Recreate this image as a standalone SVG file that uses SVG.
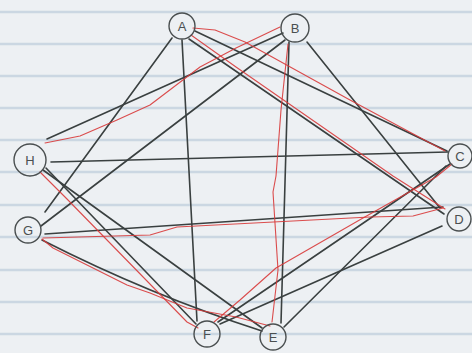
<svg xmlns="http://www.w3.org/2000/svg" width="472" height="353" viewBox="0 0 472 353">
<style>
.paper{fill:#edf0f3}
.rule{stroke:#c6d3e0;stroke-width:2.4;opacity:0.85}
.blk{fill:none;stroke:#3a4040;stroke-width:1.6;stroke-linecap:round;stroke-linejoin:round}
.red{fill:none;stroke:#d83a3a;stroke-width:1.1;stroke-linecap:round;stroke-linejoin:round;opacity:0.9}
.node circle{fill:none;stroke:#4a4f50;stroke-width:1.4}
.node text{font-family:"Liberation Sans",Arial,sans-serif;font-size:13px;fill:#4a4f50;text-anchor:middle;dominant-baseline:central}
</style>
<g id="paper">
<rect class="paper" x="0" y="0" width="472" height="353"/>
<g id="rules">
<line class="rule" x1="0" y1="12" x2="472" y2="12"/>
<line class="rule" x1="0" y1="44" x2="472" y2="44"/>
<line class="rule" x1="0" y1="76" x2="472" y2="76"/>
<line class="rule" x1="0" y1="108" x2="472" y2="108"/>
<line class="rule" x1="0" y1="140" x2="472" y2="140"/>
<line class="rule" x1="0" y1="172" x2="472" y2="172"/>
<line class="rule" x1="0" y1="205" x2="472" y2="205"/>
<line class="rule" x1="0" y1="237" x2="472" y2="237"/>
<line class="rule" x1="0" y1="270" x2="472" y2="270"/>
<line class="rule" x1="0" y1="302" x2="472" y2="302"/>
<line class="rule" x1="0" y1="334" x2="472" y2="334"/>
</g>
</g>
<g id="connectors">
<g id="black-edges">
<path class="blk" d="M172,38 L45,212"/>
<path class="blk" d="M182,40 L197,321"/>
<path class="blk" d="M189,39 L444,214"/>
<path class="blk" d="M195,31 L447,151"/>
<path class="blk" d="M283,33 L47,139"/>
<path class="blk" d="M285,40 L41,226"/>
<path class="blk" d="M289,42 L281,323"/>
<path class="blk" d="M307,42 L440,208"/>
<path class="blk" d="M51,162 L448,152"/>
<path class="blk" d="M43,170 L262,328"/>
<path class="blk" d="M46,168 L196,324"/>
<path class="blk" d="M45,234 L443,207"/>
<path class="blk" d="M42,240 Q150,295 262,331"/>
<path class="blk" d="M218,322 L450,164"/>
<path class="blk" d="M220,324 L442,226"/>
<path class="blk" d="M284,327 L446,166"/>
</g>
<g id="red-edges">
<path class="red" d="M45,143 L80,136 L117,120 L150,105 L200,67 L236,48 L280,27"/>
<path class="red" d="M288,44 L281,110 L276,176 L273,192 L278,270 L272,322"/>
<path class="red" d="M270,326 L236,317 L187,308 L150,293 L127,285 L53,248 L42,239"/>
<path class="red" d="M43,238 L150,235 L177,227 L370,217 L413,216 L443,208"/>
<path class="red" d="M445,209 L393,176 L236,67 L191,35"/>
<path class="red" d="M193,28 L215,30 L245,42 L350,100 L445,151"/>
<path class="red" d="M452,164 L436,177 L363,218 L276,268 L240,300 L214,322"/>
<path class="red" d="M198,328 L187,322 L67,199 L40,172"/>
</g>
</g>
<g id="node-A" class="node"><circle cx="182" cy="26" r="13"/><text x="182" y="26">A</text></g>
<g id="node-B" class="node"><circle cx="295" cy="28" r="14"/><text x="295" y="28">B</text></g>
<g id="node-C" class="node"><circle cx="460" cy="156" r="12"/><text x="460" y="156">C</text></g>
<g id="node-D" class="node"><circle cx="459" cy="219" r="12"/><text x="459" y="219">D</text></g>
<g id="node-E" class="node"><circle cx="273" cy="337" r="13"/><text x="273" y="337">E</text></g>
<g id="node-F" class="node"><circle cx="207" cy="334" r="13"/><text x="207" y="334">F</text></g>
<g id="node-G" class="node"><circle cx="28" cy="230" r="13"/><text x="28" y="230">G</text></g>
<g id="node-H" class="node"><circle cx="30" cy="160" r="16"/><text x="30" y="160">H</text></g>
</svg>
